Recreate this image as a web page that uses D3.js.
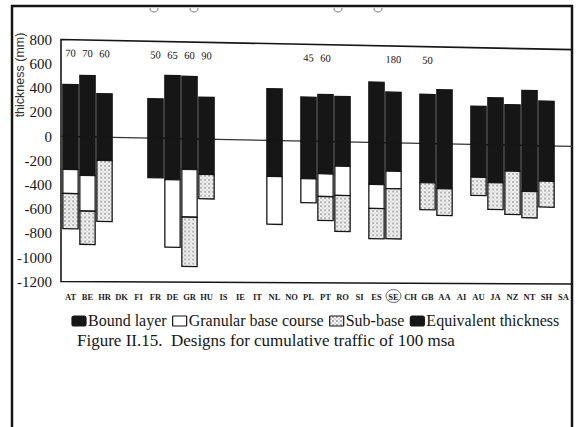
<!DOCTYPE html>
<html><head><meta charset="utf-8">
<script src="https://cdn.jsdelivr.net/npm/d3@7"></script>
<style>html,body{margin:0;padding:0;background:#fff;} svg{display:block;}</style>
</head><body><svg id="c" width="578" height="427"></svg>
<script>
// ---------------- data ----------------
const categories = ["AT","BE","HR","DK","FI","FR","DE","GR","HU","IS","IE","IT","NL","NO","PL","PT","RO","SI","ES","SE","CH","GB","AA","AI","AU","JA","NZ","NT","SH","SA"];
const equivalent = [430,507,359,null,null,326,521,516,347,null,null,null,428,null,364,388,375,null,499,419,null,406,447,null,317,389,335,455,370,null];
const bound      = [273,319,193,null,null,327,340,253,292,null,null,null,297,null,311,267,201,null,346,234,null,324,371,null,269,313,214,379,291,null];
const granular   = [199,295,0,null,null,0,558,394,0,null,null,null,396,null,198,188,242,null,199,145,null,0,0,null,0,0,0,0,0,null];
const subbase    = [290,275,504,null,null,0,0,408,201,null,null,null,0,null,0,198,297,null,250,414,null,223,221,null,152,221,358,218,215,null];
const yTicks = [800,600,400,200,0,-200,-400,-600,-800,-1000,-1200];
const trafficCats   = ["AT","BE","HR","FR","DE","GR","HU","PL","PT","SE","GB"];
const trafficLabels = ["70","70","60","50","65","60","90","45","60","180","50"];
const legendLabels = ["Bound layer","Granular base course","Sub-base","Equivalent thickness"];
const legendKinds  = ["bound","gran","sub","eq"];
const yTitle = "thickness (mm)";
const caption = "Figure II.15.  Designs for cumulative traffic of 100 msa";

// ---------------- setup ----------------
const svg = d3.select("#c");
const serif = "'Liberation Serif','Times New Roman',serif";
const sans = "'Liberation Sans',Arial,sans-serif";
const ink = "#161616";
const plotL = 61, plotR = 572;
const k = 0.0198; // scan skew
const x = d3.scaleBand().domain(categories).range([62, 572]).paddingInner(0.1).paddingOuter(0.05);
const y = d3.scaleLinear().domain([-1200, 800]).range([281.5, 39.5]);

const defs = svg.append("defs");
const pat = defs.append("pattern").attr("id","dots").attr("width",4).attr("height",4).attr("patternUnits","userSpaceOnUse");
pat.append("rect").attr("width",4).attr("height",4).attr("fill","#f4f4f4");
pat.append("circle").attr("cx",1).attr("cy",1).attr("r",0.8).attr("fill","#555");
pat.append("circle").attr("cx",3).attr("cy",3).attr("r",0.6).attr("fill","#888");

const fills = {eq: ink, bound: ink, gran: "#fff", sub: "url(#dots)"};

// outer border of the scanned page
svg.append("path").attr("d", "M12,427 L12,6 L572,6 L572,427")
  .attr("fill","none").attr("stroke",ink).attr("stroke-width",2.5);

// hole punch marks
[154, 194, 338, 378].forEach(cx => {
  svg.append("path").attr("d", `M${cx-4},8 A4,4 0 0 0 ${cx+4},8`)
    .attr("fill","none").attr("stroke","#999").attr("stroke-width",1.3);
});

// plot frame (distorted scan: top sloped, bottom nearly flat)
const yTop = y(800), yBot = y(-1200);
svg.append("path")
  .attr("d", `M${plotL},${yTop} L${plotR},${yTop + k*(plotR-plotL)} L${plotR},${yBot+2.5} L${plotL},${yBot} Z`)
  .attr("fill","none").attr("stroke",ink).attr("stroke-width",1.6);

// skewed plot content
const g = svg.append("g").attr("transform", `translate(${plotL},0) skewY(${Math.atan(k)*180/Math.PI}) translate(${-plotL},0)`);

g.append("line").attr("x1",plotL).attr("x2",plotR).attr("y1",y(0)).attr("y2",y(0))
  .attr("stroke","#333").attr("stroke-width",1.2);

const segs = [];
categories.forEach((c,i) => {
  if (equivalent[i] == null) return;
  const b = bound[i], gr = granular[i], s = subbase[i];
  segs.push({c, kind:"eq", v0:0, v1:equivalent[i]});
  segs.push({c, kind:"bound", v0:0, v1:-b});
  if (gr > 0) segs.push({c, kind:"gran", v0:-b, v1:-(b+gr)});
  if (s > 0) segs.push({c, kind:"sub", v0:-(b+gr), v1:-(b+gr+s)});
});
g.selectAll("rect.seg").data(segs).join("rect").attr("class","seg")
  .attr("x", d => x(d.c)).attr("width", x.bandwidth())
  .attr("y", d => y(Math.max(d.v0,d.v1)))
  .attr("height", d => Math.abs(y(d.v0)-y(d.v1)))
  .attr("fill", d => fills[d.kind])
  .attr("stroke", ink).attr("stroke-width", 1.3);

g.selectAll("text.tl").data(trafficCats).join("text").attr("class","tl")
  .attr("x", d => x(d) + x.bandwidth()/2).attr("y", y(660))
  .attr("text-anchor","middle").attr("font-family",serif).attr("font-size",10.5).attr("fill",ink)
  .text((d,i) => trafficLabels[i]);

// y tick labels
svg.selectAll("text.yt").data(yTicks).join("text").attr("class","yt")
  .attr("x", 52).attr("y", d => y(d)).attr("dy","0.35em")
  .attr("text-anchor","end").attr("font-family",serif).attr("font-size",15).attr("fill",ink)
  .text(d => String(d));

// y title
svg.append("text").attr("transform","translate(24,75) rotate(-90)")
  .attr("text-anchor","middle").attr("font-family",sans).attr("font-size",12.5).attr("fill","#333")
  .text(yTitle);

// x category labels
svg.selectAll("text.xl").data(categories).join("text").attr("class","xl")
  .attr("x", d => x(d) + x.bandwidth()/2).attr("y", 300)
  .attr("text-anchor","middle").attr("font-family",serif).attr("font-weight","bold")
  .attr("font-size",8.5).attr("fill","#222")
  .text(d => d);
svg.append("ellipse").attr("cx", x("SE") + x.bandwidth()/2).attr("cy", 296).attr("rx", 7.5).attr("ry", 6.5)
  .attr("fill","none").attr("stroke","#666").attr("stroke-width",1);

// legend
let lx = 72;
const leg = svg.append("g");
legendLabels.forEach((lab,i) => {
  const kind = legendKinds[i];
  leg.append("rect").attr("x",lx).attr("y",316).attr("width",14).attr("height",10).attr("rx",kind==="eq"||kind==="bound"?2:0.5)
    .attr("fill", fills[kind]).attr("stroke",ink).attr("stroke-width",1.2);
  const t = leg.append("text").attr("x", lx+16).attr("y", 326).attr("font-family",serif).attr("font-size",16).attr("fill",ink).text(lab);
  lx = lx + 16 + t.node().getComputedTextLength() + 6;
});

// caption
svg.append("text").attr("x",77).attr("y",346).attr("font-family",serif).attr("font-size",17).attr("fill",ink)
  .attr("xml:space","preserve").style("white-space","pre").text(caption);
</script>
</body></html>
